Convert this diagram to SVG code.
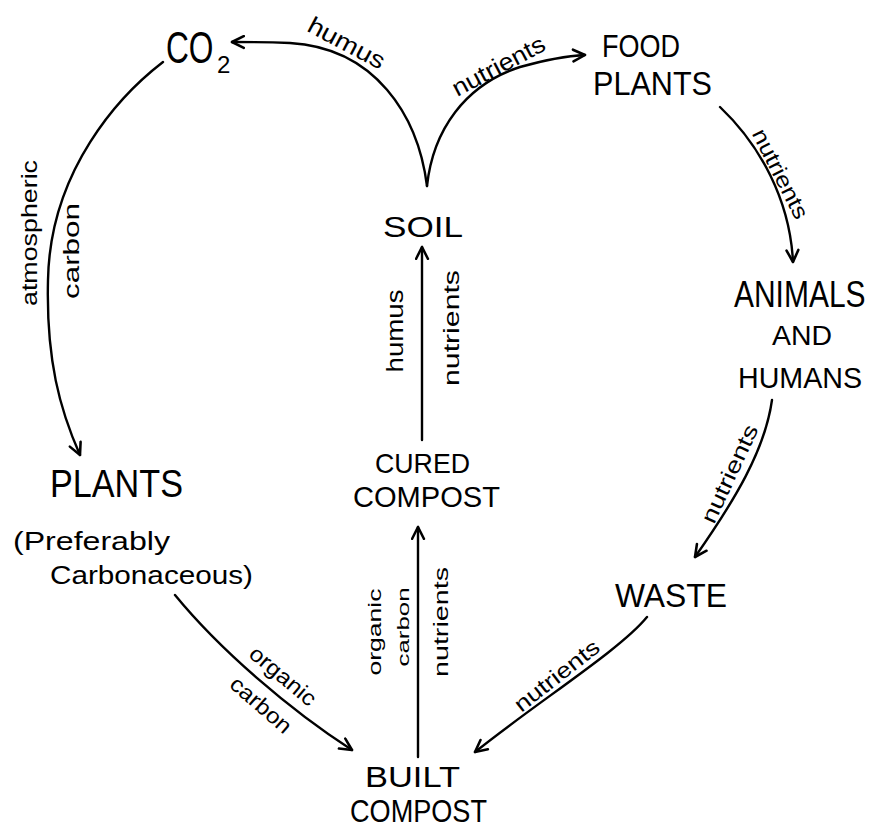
<svg xmlns="http://www.w3.org/2000/svg" width="869" height="829" viewBox="0 0 869 829">
<defs>
<marker id="arr" viewBox="0 0 14 14" refX="12.5" refY="7" markerWidth="15" markerHeight="15" markerUnits="userSpaceOnUse" orient="auto">
<path d="M1.5,1.5 L12.5,7 L1.5,12.5" fill="none" stroke="#000" stroke-width="2.4" stroke-linecap="round" stroke-linejoin="round"/>
</marker>
<style>
.node{font-family:"Liberation Sans","DejaVu Sans",sans-serif;fill:#000}
.lbl{font-family:"Liberation Sans","DejaVu Sans",sans-serif;fill:#000;text-anchor:middle}
.edge{fill:none;stroke:#000;stroke-width:2.4;stroke-linecap:round;marker-end:url(#arr)}
</style>
</defs>
<rect width="869" height="829" fill="#fff"/>
<g id="connectors">
<path class="edge" d="M427,186 C418,115 375,48 290,43 C265,42 250,42 232,42"/>
<path class="edge" d="M427,186 C433,130 465,85 520,67 C545,60 565,56 585,55"/>
<path class="edge" d="M163,62 C120,95 50,170 48,280 C46,360 60,410 80,455"/>
<path class="edge" d="M422,440 L422,247"/>
<path class="edge" d="M418,757 L418,527"/>
<path class="edge" d="M175,595 C220,650 290,710 352,750"/>
<path class="edge" d="M647,617 C620,650 540,700 475,752"/>
<path class="edge" d="M772,400 C765,450 735,500 695,557"/>
<path class="edge" d="M720,107 C760,145 790,200 793,262"/>
</g>
<g id="edge-labels">
<text class="lbl" font-size="24" transform="translate(346,44) rotate(28)" y="7" textLength="84" lengthAdjust="spacingAndGlyphs">humus</text>
<text class="lbl" font-size="24" transform="translate(499,67) rotate(-28)" y="7" textLength="102" lengthAdjust="spacingAndGlyphs">nutrients</text>
<text class="lbl" font-size="22" transform="translate(30,233) rotate(-90)" y="7" textLength="146" lengthAdjust="spacingAndGlyphs">atmospheric</text>
<text class="lbl" font-size="22" transform="translate(72,251) rotate(-90)" y="7" textLength="96" lengthAdjust="spacingAndGlyphs">carbon</text>
<text class="lbl" font-size="24" transform="translate(395,331) rotate(-90)" y="8" textLength="83" lengthAdjust="spacingAndGlyphs">humus</text>
<text class="lbl" font-size="22" transform="translate(452,328) rotate(-90)" y="7" textLength="116" lengthAdjust="spacingAndGlyphs">nutrients</text>
<text class="lbl" font-size="19" transform="translate(376,632) rotate(-90)" y="5" textLength="87" lengthAdjust="spacingAndGlyphs">organic</text>
<text class="lbl" font-size="16" transform="translate(404,627) rotate(-90)" y="5" textLength="79" lengthAdjust="spacingAndGlyphs">carbon</text>
<text class="lbl" font-size="21" transform="translate(441,622) rotate(-90)" y="7" textLength="110" lengthAdjust="spacingAndGlyphs">nutrients</text>
<text class="lbl" font-size="22" transform="translate(282,677) rotate(40)" y="6" textLength="80" lengthAdjust="spacingAndGlyphs">organic</text>
<text class="lbl" font-size="22" transform="translate(260,706) rotate(41)" y="6" textLength="74" lengthAdjust="spacingAndGlyphs">carbon</text>
<text class="lbl" font-size="22" transform="translate(557,676) rotate(-38)" y="7" textLength="102" lengthAdjust="spacingAndGlyphs">nutrients</text>
<text class="lbl" font-size="22" transform="translate(730,474) rotate(-65)" y="7" textLength="106" lengthAdjust="spacingAndGlyphs">nutrients</text>
<text class="lbl" font-size="22" transform="translate(780,174) rotate(63)" y="7" textLength="98" lengthAdjust="spacingAndGlyphs">nutrients</text>
</g>
<g id="co2"><text class="node" font-size="44" transform="translate(166,63) scale(0.72,1)">CO</text><text class="node" font-size="24" x="217" y="73">2</text></g>
<g id="food-plants"><text class="node" font-size="32" x="602" y="57" textLength="78" lengthAdjust="spacingAndGlyphs">FOOD</text><text class="node" font-size="33" x="593" y="95" textLength="119" lengthAdjust="spacingAndGlyphs">PLANTS</text></g>
<g id="soil"><text class="node" font-size="30" x="383" y="237" textLength="80" lengthAdjust="spacingAndGlyphs">SOIL</text></g>
<g id="animals-humans"><text class="node" font-size="37" transform="translate(734,307) scale(0.81,1)">ANIMALS</text><text class="node" font-size="27" x="772" y="345" textLength="60" lengthAdjust="spacingAndGlyphs">AND</text><text class="node" font-size="30" x="738" y="388" textLength="124" lengthAdjust="spacingAndGlyphs">HUMANS</text></g>
<g id="waste"><text class="node" font-size="34" x="615" y="607" textLength="112" lengthAdjust="spacingAndGlyphs">WASTE</text></g>
<g id="cured-compost"><text class="node" font-size="28" x="375" y="473" textLength="95" lengthAdjust="spacingAndGlyphs">CURED</text><text class="node" font-size="30" x="353" y="507" textLength="147" lengthAdjust="spacingAndGlyphs">COMPOST</text></g>
<g id="plants"><text class="node" font-size="39" x="50" y="497" textLength="133" lengthAdjust="spacingAndGlyphs">PLANTS</text><text class="node" font-size="26" x="13" y="550" textLength="157" lengthAdjust="spacingAndGlyphs">(Preferably</text><text class="node" font-size="26" x="50" y="584" textLength="203" lengthAdjust="spacingAndGlyphs">Carbonaceous)</text></g>
<g id="built-compost"><text class="node" font-size="30" x="365" y="787" textLength="95" lengthAdjust="spacingAndGlyphs">BUILT</text><text class="node" font-size="31" x="350" y="822" textLength="137" lengthAdjust="spacingAndGlyphs">COMPOST</text></g>
</svg>
